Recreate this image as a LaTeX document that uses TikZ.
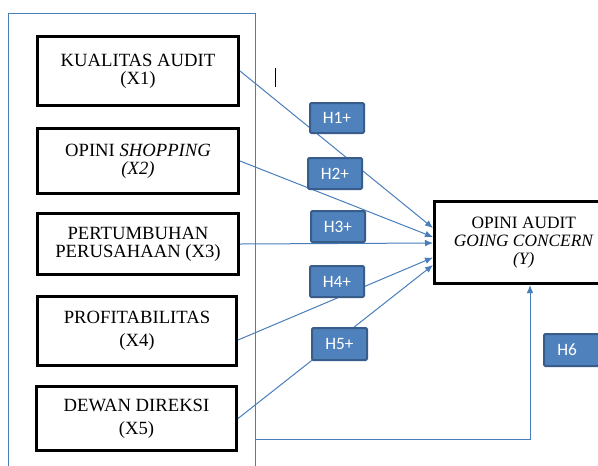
\documentclass[tikz,border=0pt]{standalone}
\usepackage{fontspec}
\setmainfont{Liberation Serif}
\newfontfamily\hfont{Carlito}
\usetikzlibrary{arrows.meta,calc}
\definecolor{lineblue}{HTML}{4A7EBB}
\definecolor{hfill}{HTML}{4F81BD}
\definecolor{hdraw}{HTML}{385D8A}
\begin{document}
\begin{tikzpicture}[x=0.75pt,y=-0.75pt,
  varbox/.style={draw=black, line width=2.25pt, align=center, inner sep=0pt,
                 font=\fontsize{14}{13.5}\selectfont},
  hbox/.style={draw=hdraw, fill=hfill, line width=1.5pt, rounded corners=1pt,
               text=white, font=\hfont\fontsize{13}{15}\selectfont,
               minimum width=40.5pt, minimum height=23.25pt, inner sep=0pt},
  conn/.style={draw=lineblue, line width=0.75pt},
  arr/.style={conn, -{Latex[length=6pt,width=5pt]}}]
\fill[white] (0,0) rectangle (598,465);
\useasboundingbox (0,0) rectangle (598,465);
% frame
\draw[conn] (8,470) -- (8,13) -- (255,13) -- (255,470);
% variable boxes
\node[varbox, minimum width=150.75pt, minimum height=51.75pt] (x1) at (138,71)
  {KUALITAS AUDIT\\(X1)};
\node[varbox, minimum width=150.75pt, minimum height=48.75pt] (x2) at (138,161)
  {OPINI \textit{SHOPPING}\\\textit{(X2)}};
\node[varbox, minimum width=150.75pt, minimum height=45.75pt] (x3) at (138,244)
  {PERTUMBUHAN\\PERUSAHAAN (X3)};
\node[varbox, minimum width=149.25pt, minimum height=51.75pt,
      font=\fontsize{14}{17}\selectfont] (x4) at (137,331)
  {PROFITABILITAS\\(X4)};
\node[varbox, minimum width=150pt, minimum height=48pt,
      font=\fontsize{14}{17}\selectfont] (x5) at (136.5,418.5)
  {DEWAN DIREKSI\\(X5)};
\node[varbox, minimum width=133.9pt, minimum height=61.5pt,
      font=\fontsize{13}{13.5}\selectfont] (y) at (523.75,242.5)
  {OPINI AUDIT\\\textit{GOING CONCERN}\\\textit{(Y)}};
% stray cursor mark
\draw[black, line width=0.75pt] (275.5,68) -- (275.5,87);
% connectors
\draw[arr] (x1.east) -- ($(y.west)+(0,-14.5)$);
\draw[arr] (x2.east) -- ($(y.west)+(0,-5.5)$);
\draw[arr] (x3.east) -- ($(y.west)+(0,0.5)$);
\draw[arr] ($(x4.east)+(0,9)$) -- ($(y.west)+(0,15)$);
\draw[arr] (x5.east) -- ($(y.west)+(0,22.5)$);
\coordinate (fr) at (255,439);
\draw[arr] (fr) -| ($(y.south)+(6.25,0)$);
% hypothesis labels
\node[hbox, minimum height=22.5pt] (h1) at (337,118) {H1+};
\node[hbox] (h2) at (335,173.5) {H2+};
\node[hbox] (h3) at (338,226.5) {H3+};
\node[hbox] (h4) at (337,281.5) {H4+};
\node[hbox, minimum width=41.25pt, minimum height=24pt] (h5) at (339.5,344) {H5+};
\node[hbox, minimum width=41.25pt, minimum height=24pt] (h6) at (571.5,350) {H6\hphantom{0}};
\end{tikzpicture}
\end{document}
